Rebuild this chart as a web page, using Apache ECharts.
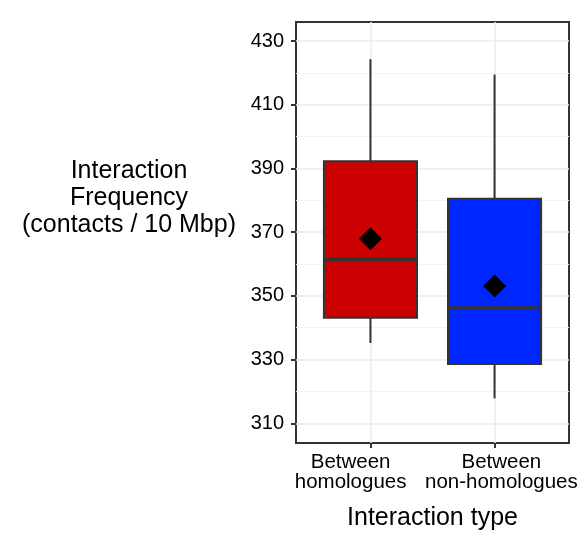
<!DOCTYPE html>
<html>
<head>
<meta charset="utf-8">
<script src="https://cdn.jsdelivr.net/npm/echarts@6/dist/echarts.min.js"></script>
<style>
html,body{margin:0;padding:0;background:#fff;}
#chart{width:586px;height:547px;}
</style>
</head>
<body>
<div id="chart"></div>
<script>
// ---- data ----
const categories = ['Between\nhomologues', 'Between\nnon-homologues'];
const lowWhisker = [335.2, 317.8];
const q1 = [343.1, 328.6];
const median = [361.4, 346.2];
const q3 = [392.3, 380.5];
const highWhisker = [424.3, 419.5];
const means = [367.9, 353.1];
const yMajorTicks = [310, 330, 350, 370, 390, 410, 430];
const yMinorTicks = [320, 340, 360, 380, 400, 420];
const xTicks = [1, 2];

// ---- layout / styles ----
const labelShift = [-0.16, 0.055];   // label offsets from the tick, in axis units
const boxColors = ['#CC0000', '#0026FF'];
const FONT = "'Liberation Sans', Arial, sans-serif";

const boxData = categories.map((c, i) => [i + 1, lowWhisker[i], q1[i], median[i], q3[i], highWhisker[i]]);
const meanData = categories.map((c, i) => [i + 1, means[i]]);
const labelValues = xTicks.map((t, i) => t + labelShift[i]);

function renderBox(params, api) {
  const x = api.value(0);
  const half = 0.375;
  const pLow = api.coord([x, api.value(1)]);
  const pQ1 = api.coord([x, api.value(2)]);
  const pMed = api.coord([x, api.value(3)]);
  const pQ3 = api.coord([x, api.value(4)]);
  const pHigh = api.coord([x, api.value(5)]);
  const left = api.coord([x - half, api.value(2)])[0];
  const right = api.coord([x + half, api.value(2)])[0];
  const stroke = '#333333';
  return {
    type: 'group',
    children: [
      { type: 'line', shape: { x1: pQ3[0], y1: pQ3[1], x2: pHigh[0], y2: pHigh[1] }, style: { stroke: stroke, lineWidth: 2 } },
      { type: 'line', shape: { x1: pLow[0], y1: pLow[1], x2: pQ1[0], y2: pQ1[1] }, style: { stroke: stroke, lineWidth: 2 } },
      { type: 'rect', shape: { x: left, y: pQ3[1], width: right - left, height: pQ1[1] - pQ3[1] },
        style: { fill: boxColors[params.dataIndex], stroke: stroke, lineWidth: 2 } },
      { type: 'line', shape: { x1: left, y1: pMed[1], x2: right, y2: pMed[1] }, style: { stroke: stroke, lineWidth: 3.5 } }
    ]
  };
}

function xLabel(v) {
  let best = -1, bd = Infinity;
  labelValues.forEach((lv, i) => { const d = Math.abs(lv - v); if (d < bd) { bd = d; best = i; } });
  return bd < 0.01 ? categories[best] : '';
}

const chart = echarts.init(document.getElementById('chart'), null, { renderer: 'canvas' });
chart.setOption({
  animation: false,
  backgroundColor: '#ffffff',
  textStyle: { fontFamily: FONT },
  grid: {
    left: 296, right: 17, top: 22, bottom: 104,
    show: true, borderColor: '#333333', borderWidth: 2, backgroundColor: 'transparent'
  },
  xAxis: {
    type: 'value', min: 0.4, max: 2.6,
    name: 'Interaction type', nameLocation: 'middle', nameGap: 63,
    nameTextStyle: { fontSize: 25, color: '#000', fontFamily: FONT },
    axisLine: { show: false },
    axisTick: { show: true, length: 5, lineStyle: { color: '#333333', width: 2 }, customValues: xTicks },
    axisLabel: {
      customValues: labelValues, margin: 10, fontSize: 20.5, lineHeight: 19.5, color: '#000', fontFamily: FONT,
      hideOverlap: false, showMinLabel: true, showMaxLabel: true,
      formatter: xLabel
    },
    splitLine: { show: true, lineStyle: { color: '#EBEBEB', width: 1.5 } }
  },
  yAxis: [{
    type: 'value', min: 303.8, max: 436,
    axisLine: { show: false },
    axisTick: { show: true, length: 5, lineStyle: { color: '#333333', width: 2 }, customValues: yMajorTicks },
    axisLabel: { customValues: yMajorTicks, margin: 12, fontSize: 20, color: '#000', fontFamily: FONT },
    splitLine: { show: true, lineStyle: { color: '#EBEBEB', width: 1.5 } }
  }, {
    type: 'value', min: 303.8, max: 436, position: 'left',
    axisLine: { show: false },
    axisTick: { show: false, customValues: yMinorTicks },
    axisLabel: { show: false, customValues: yMinorTicks },
    splitLine: { show: true, lineStyle: { color: '#F3F3F3', width: 1 } }
  }],
  graphic: [{
    type: 'text', silent: true,
    x: 129, y: 198,
    style: {
      text: 'Interaction\nFrequency\n(contacts / 10 Mbp)',
      font: '25px ' + FONT, fill: '#000',
      textAlign: 'center', textVerticalAlign: 'middle', lineHeight: 27
    }
  }],
  series: [{
    type: 'custom', renderItem: renderBox, data: boxData,
    encode: { x: 0, y: [1, 2, 3, 4, 5] }, z: 2, silent: true
  }, {
    type: 'scatter', data: meanData, symbol: 'diamond', symbolSize: 23,
    itemStyle: { color: '#000000', opacity: 1 }, z: 3, silent: true
  }]
});
</script>
</body>
</html>
